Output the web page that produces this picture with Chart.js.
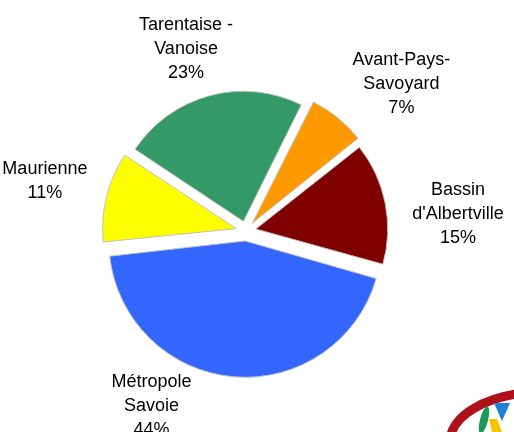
<!DOCTYPE html>
<html>
<head>
<meta charset="utf-8">
<script src="https://cdn.jsdelivr.net/npm/chart.js@4.4.0/dist/chart.umd.min.js"></script>
<style>
  body { margin: 0; background: #fff; }
  #wrap { width: 514px; height: 432px; position: relative; }
</style>
</head>
<body>
<div id="wrap"><canvas id="pie"></canvas></div>
<script>
// categories in clockwise order, starting at the top-right (orange slice)
const regions = [
  ["Avant-Pays-", "Savoyard"],
  ["Bassin", "d'Albertville"],
  ["Métropole", "Savoie"],
  ["Maurienne"],
  ["Tarentaise -", "Vanoise"]
];
const shares = [7, 15, 44, 11, 23];
const sliceColors = ["#ff9900", "#800000", "#3366ff", "#ffff00", "#339966"];

// label placement: angle nudge (deg) and distance from the centre
const labelNudge = [7, 6, 24, 1, -3];
const labelDist = [216, 213, 196, 208, 194];

// draws the outside labels, Excel style
const outsideLabels = {
  id: "outsideLabels",
  afterDatasetsDraw(chart) {
    const ctx = chart.ctx;
    const meta = chart.getDatasetMeta(0);
    ctx.save();
    ctx.font = "18px 'Liberation Sans', Arial, sans-serif";
    ctx.fillStyle = "#000";
    ctx.textAlign = "center";
    ctx.textBaseline = "middle";
    meta.data.forEach((arc, i) => {
      const p = arc.getProps(["x", "y", "startAngle", "endAngle"], true);
      const mid = (p.startAngle + p.endAngle) / 2 + labelNudge[i] * Math.PI / 180;
      const cx = p.x + Math.cos(mid) * labelDist[i];
      const cy = p.y + Math.sin(mid) * labelDist[i] + 3;
      const lines = regions[i].concat([shares[i] + "%"]);
      const lh = 24;
      const top = cy - (lines.length - 1) * lh / 2;
      lines.forEach((t, k) => ctx.fillText(t, cx, top + k * lh));
    });
    ctx.restore();
  }
};

// bit of the logo peeking in the bottom right corner
const cornerLogo = {
  id: "cornerLogo",
  afterDraw(chart) {
    const ctx = chart.ctx;
    ctx.save();
    ctx.strokeStyle = "#b0101c";
    ctx.lineWidth = 9;
    ctx.beginPath();
    ctx.ellipse(542, 442, 92, 50, 0, Math.PI * 1.02, Math.PI * 1.45);
    ctx.stroke();
    ctx.fillStyle = "#1a9a5a";
    ctx.beginPath();
    ctx.ellipse(484, 420, 4, 14, 0.25, 0, Math.PI * 2);
    ctx.fill();
    ctx.fillStyle = "#1e7fd8";
    ctx.beginPath();
    ctx.moveTo(494, 403); ctx.lineTo(510, 403); ctx.lineTo(502, 421);
    ctx.closePath(); ctx.fill();
    ctx.fillStyle = "#f5c400";
    ctx.beginPath();
    ctx.moveTo(489, 419); ctx.lineTo(497, 419); ctx.lineTo(502, 432); ctx.lineTo(492, 432);
    ctx.closePath(); ctx.fill();
    ctx.restore();
  }
};

new Chart(document.getElementById("pie"), {
  type: "pie",
  data: {
    labels: regions.map(r => r.join(" ")),
    datasets: [{
      data: shares,
      backgroundColor: sliceColors,
      borderColor: "#c0c0c0",
      borderWidth: 1,
      offset: 40
    }]
  },
  options: {
    responsive: true,
    maintainAspectRatio: false,
    animation: false,
    radius: 130,
    rotation: 26.4,
    layout: { padding: { left: 0, right: 22, top: 30, bottom: 0 } },
    plugins: {
      legend: { display: false },
      tooltip: { enabled: false }
    }
  },
  plugins: [outsideLabels, cornerLogo]
});
</script>
</body>
</html>
